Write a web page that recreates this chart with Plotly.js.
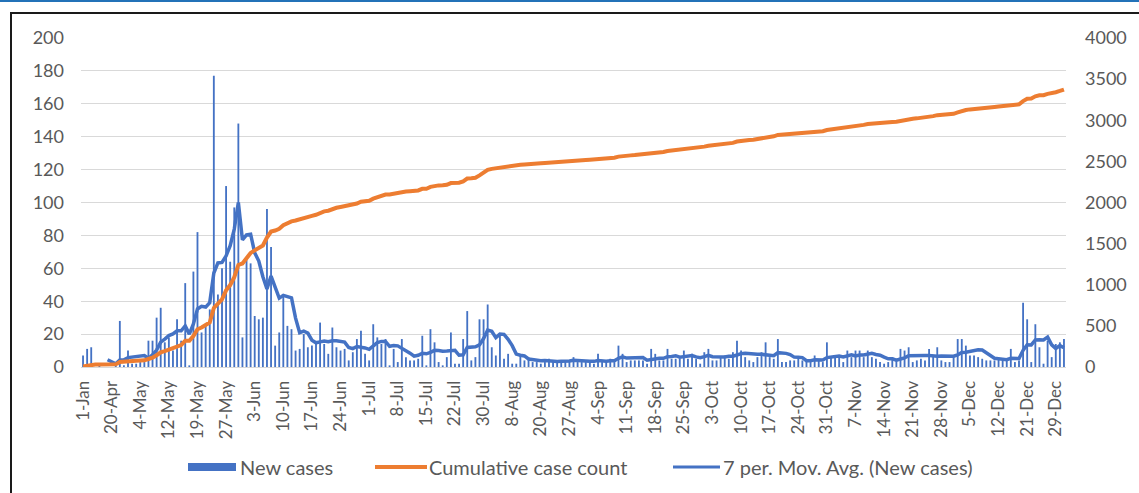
<!DOCTYPE html>
<html><head><meta charset="utf-8">
<script src="https://cdn.plot.ly/plotly-3.0.1.min.js"></script>
<style>
html,body{margin:0;padding:0;background:#fff;overflow:hidden;width:1139px;height:493px;}
#chart{position:absolute;left:0;top:0;width:1139px;height:493px;}
#topline{position:absolute;left:0;top:0;width:1139px;height:2px;background:#2372b8;z-index:2;}
#frame{position:absolute;left:10px;top:12px;width:1200px;height:600px;border:2px solid #1a1a1a;box-sizing:border-box;z-index:2;pointer-events:none;}
</style></head>
<body>
<div id="topline"></div><div id="frame"></div>
<div id="chart"></div>
<script>
// ---- data ----
const tickLabels = ["1-Jan","20-Apr","4-May","12-May","19-May","27-May","3-Jun","10-Jun","17-Jun","24-Jun",
  "1-Jul","8-Jul","15-Jul","22-Jul","30-Jul","8-Aug","20-Aug","27-Aug","4-Sep","11-Sep","18-Sep","25-Sep",
  "3-Oct","10-Oct","17-Oct","24-Oct","31-Oct","7-Nov","14-Nov","21-Nov","28-Nov","5-Dec","12-Dec","21-Dec","29-Dec"];

const newCases = [
  7, 11, 12, 0, 1, 0, 0, 0, 1, 28,
  1, 10, 2, 2, 3, 3, 16, 16, 30, 36,
  15, 18, 10, 29, 16, 51, 1, 58, 82, 21,
  26, 35, 177, 44, 60, 110, 64, 97, 148, 18,
  65, 63, 31, 29, 30, 96, 73, 13, 21, 43,
  25, 23, 10, 11, 20, 12, 13, 14, 27, 14,
  8, 24, 12, 10, 11, 4, 9, 17, 22, 8,
  4, 26, 18, 14, 17, 1, 11, 3, 17, 6,
  4, 4, 5, 19, 1, 23, 15, 3, 1, 6,
  21, 2, 2, 17, 34, 4, 6, 29, 29, 38,
  12, 7, 19, 5, 8, 2, 2, 7, 4, 6,
  3, 3, 2, 3, 5, 3, 4, 4, 3, 4,
  6, 3, 3, 3, 3, 2, 8, 3, 3, 5,
  3, 13, 8, 3, 4, 4, 4, 4, 2, 11,
  8, 4, 4, 11, 5, 5, 5, 10, 5, 8,
  5, 2, 9, 11, 4, 4, 6, 7, 5, 9,
  16, 10, 6, 4, 3, 6, 9, 15, 6, 5,
  17, 3, 3, 4, 4, 5, 4, 4, 3, 7,
  4, 3, 15, 6, 6, 6, 3, 10, 6, 10,
  10, 6, 10, 6, 5, 3, 2, 3, 6, 4,
  11, 10, 12, 3, 4, 5, 4, 11, 7, 12,
  4, 3, 3, 6, 17, 17, 13, 7, 7, 6,
  5, 4, 4, 4, 5, 4, 5, 11, 3, 4,
  39, 29, 3, 26, 12, 2, 16, 6, 14, 15, 17
];
const seriesNames = ["New cases", "Cumulative case count", "7 per. Mov. Avg. (New cases)"];
const tickStep = 7;
const maPeriod = 7;

// ---- derived series (as defined in the chart) ----
const dayIndex = newCases.map((_, i) => i);
let run = 0;
const cumulative = newCases.map(v => (run += v));
const movAvg = newCases.map((_, i) => {
  if (i < maPeriod - 1) return null;
  let s = 0;
  for (let k = i - maPeriod + 1; k <= i; k++) s += newCases[k];
  return s / maPeriod;
});
const tickVals = tickLabels.map((_, k) => k * tickStep);

// ---- layout helpers (pixel -> paper) ----
const W = 1139, H = 493, ML = 81, MR = 73, MT = 38, MB = 126;
const PW = W - ML - MR, PH = H - MT - MB;
const px = x => (x - ML) / PW;
const py = y => (H - MB - y) / PH;

const FONT = 'Lato, "Open Sans", sans-serif';
const GREY = '#595959';
const BLUE = '#4472c4', ORANGE = '#ed7d31';
const legY = 467;

const traces = [
  { type: 'bar', x: dayIndex, y: newCases, name: seriesNames[0], marker: { color: BLUE },
    yaxis: 'y', hoverinfo: 'x+y', showlegend: false },
  { type: 'scatter', mode: 'lines', x: dayIndex, y: cumulative, name: seriesNames[1],
    line: { color: ORANGE, width: 4 }, yaxis: 'y2', showlegend: false },
  { type: 'scatter', mode: 'lines', x: dayIndex, y: movAvg, name: seriesNames[2],
    line: { color: BLUE, width: 3.5 }, yaxis: 'y', showlegend: false, connectgaps: false }
];

const layout = {
  width: W, height: H,
  margin: { l: ML, r: MR, t: MT, b: MB, pad: 0 },
  paper_bgcolor: 'rgba(0,0,0,0)', plot_bgcolor: 'rgba(0,0,0,0)',
  font: { family: FONT, color: GREY },
  bargap: 0.55,
  showlegend: false,
  xaxis: {
    range: [-0.5, newCases.length - 0.5],
    tickmode: 'array', tickvals: tickVals, ticktext: tickLabels,
    tickangle: -90, tickfont: { family: FONT, size: 17, color: GREY },
    showgrid: false, zeroline: false, showline: true, linecolor: '#d9d9d9', linewidth: 1,
    ticks: '', ticklabelstandoff: 6, fixedrange: true
  },
  yaxis: {
    range: [0, 200], dtick: 20, tick0: 0,
    gridcolor: '#d9d9d9', gridwidth: 1, zeroline: false, showline: false,
    ticks: '', tickfont: { family: FONT, size: 18, color: GREY }, ticklabelstandoff: 16,
    fixedrange: true
  },
  yaxis2: {
    overlaying: 'y', side: 'right', range: [0, 4000], dtick: 500, tick0: 0,
    showgrid: false, zeroline: false, showline: false, ticks: '',
    tickfont: { family: FONT, size: 18, color: GREY }, ticklabelstandoff: 18,
    fixedrange: true
  },
  shapes: [
    { type: 'rect', xref: 'paper', yref: 'paper', x0: px(188), x1: px(236), y0: py(471), y1: py(463),
      fillcolor: BLUE, line: { width: 0 } },
    { type: 'line', xref: 'paper', yref: 'paper', x0: px(375), x1: px(427), y0: py(legY), y1: py(legY),
      line: { color: ORANGE, width: 4 } },
    { type: 'line', xref: 'paper', yref: 'paper', x0: px(673), x1: px(720), y0: py(legY), y1: py(legY),
      line: { color: BLUE, width: 3 } }
  ],
  annotations: [
    { text: seriesNames[0], x: px(238), xanchor: 'left' },
    { text: seriesNames[1], x: px(427), xanchor: 'left' },
    { text: seriesNames[2], x: px(721), xanchor: 'left' }
  ].map(a => Object.assign({ xref: 'paper', yref: 'paper', y: py(legY), yanchor: 'middle',
      showarrow: false, font: { family: FONT, size: 20, color: GREY } }, a))
};

Plotly.newPlot('chart', traces, layout, { displayModeBar: false, staticPlot: true });
</script>
</body></html>
